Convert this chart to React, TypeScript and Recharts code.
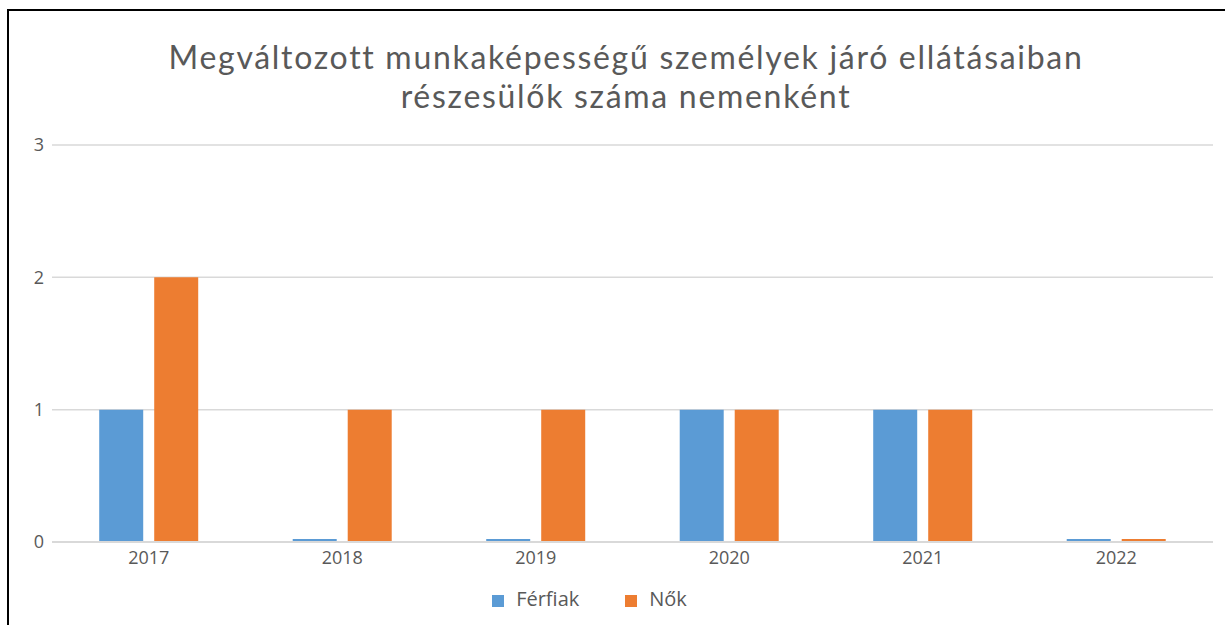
import React from 'react';
import { BarChart, Bar, XAxis, YAxis, CartesianGrid, Legend } from 'recharts';

const years = ['2017', '2018', '2019', '2020', '2021', '2022'];
const ferfiak = [1, 0, 0, 1, 1, 0];
const nok = [2, 1, 1, 1, 1, 0];
const yTicks = [0, 1, 2, 3];

const data = years.map((year, i) => ({ year, ferfiak: ferfiak[i], nok: nok[i] }));

const FONT = '"Open Sans", "Noto Sans", sans-serif';
const TITLE_FONT = 'Lato, "Open Sans", sans-serif';
const TEXT = '#595959';

const titleLine: React.CSSProperties = {
  position: 'absolute',
  left: 0,
  width: 1252,
  textAlign: 'center',
  fontFamily: TITLE_FONT,
  fontSize: 32,
  lineHeight: '38px',
  letterSpacing: '1.7px',
  color: TEXT,
  whiteSpace: 'nowrap',
};

const App: React.FC = () => {
  return (
    <div
      style={{
        position: 'absolute',
        left: 0,
        top: 0,
        width: 1225,
        height: 625,
        overflow: 'hidden',
        background: '#fff',
        fontFamily: FONT,
      }}
    >
      {/* chart border, only top and left edges fall inside the shot */}
      <div
        style={{
          position: 'absolute',
          left: 7,
          top: 9,
          width: 1300,
          height: 700,
          borderLeft: '2px solid #000',
          borderTop: '2px solid #000',
        }}
      />
      <div style={{ ...titleLine, top: 38 }}>
        Megváltozott munkaképességű személyek járó ellátásaiban
      </div>
      <div style={{ ...titleLine, top: 77 }}>részesülők száma nemenként</div>
      <div style={{ position: 'absolute', left: 0, top: 0 }}>
        <BarChart
          width={1225}
          height={625}
          data={data}
          margin={{ top: 145, right: 12, left: 12, bottom: 33 }}
          barCategoryGap="24.4%"
          barGap={11}
        >
          <CartesianGrid vertical={false} stroke="#d9d9d9" strokeWidth={1.5} />
          <XAxis
            dataKey="year"
            axisLine={{ stroke: '#d9d9d9', strokeWidth: 2 }}
            tickLine={false}
            tick={{ fill: TEXT, fontSize: 18, fontFamily: FONT }}
            tickMargin={3}
            height={34}
          />
          <YAxis
            domain={[0, 3]}
            ticks={yTicks}
            axisLine={false}
            tickLine={false}
            tick={{ fill: TEXT, fontSize: 18, fontFamily: FONT }}
            width={40}
            tickMargin={2}
          />
          <Legend
            verticalAlign="bottom"
            iconType="square"
            iconSize={12}
            height={16}
            wrapperStyle={{ fontSize: 20, fontFamily: FONT, color: TEXT, bottom: 24 }}
            formatter={(value: string) => (
              <span style={{ color: TEXT, marginRight: 36, marginLeft: 8 }}>{value}</span>
            )}
          />
          <Bar
            dataKey="ferfiak"
            name="Férfiak"
            fill="#5b9bd5"
            minPointSize={3}
            isAnimationActive={false}
          />
          <Bar
            dataKey="nok"
            name="Nők"
            fill="#ed7d31"
            minPointSize={3}
            isAnimationActive={false}
          />
        </BarChart>
      </div>
    </div>
  );
};

export default App;
